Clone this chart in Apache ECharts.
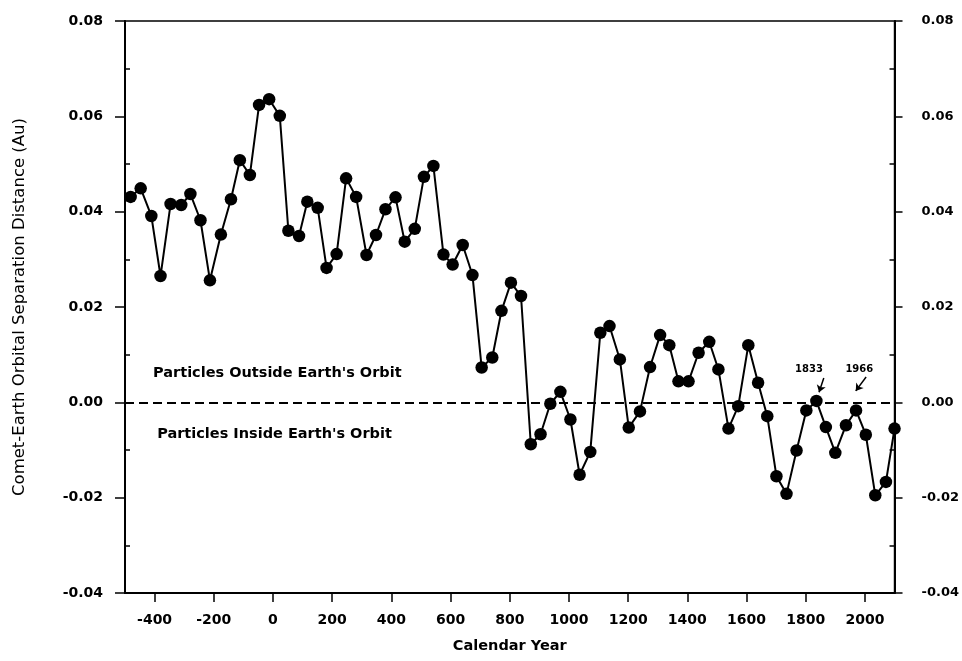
<!DOCTYPE html>
<html>
<head>
<meta charset="utf-8">
<script src="https://cdn.jsdelivr.net/npm/echarts@6/dist/echarts.min.js"></script>
<style>html,body{margin:0;padding:0;background:#fff;}#c{width:962px;height:661px;}</style>
</head>
<body>
<div id="c"></div>
<script>
// Perihelion years
var years = [-481,-447,-411,-380,-346,-310,-279,-245,-213,-176,-142,-112,-78,-47,-13,23,52,88,116,151,181,215,247,281,316,348,380,414,445,479,510,542,576,607,641,674,705,741,772,804,838,871,904,937,971,1005,1036,1072,1106,1137,1172,1202,1240,1274,1308,1339,1370,1404,1438,1474,1505,1539,1572,1606,1639,1670,1701,1735,1769,1802,1836,1868,1900,1936,1970,2003,2035,2071,2100];
// Comet-Earth orbital separation distance (AU)
var separation = [0.0431,0.0449,0.0391,0.0265,0.0416,0.0414,0.0437,0.0382,0.0256,0.0352,0.0426,0.0508,0.0477,0.0624,0.0636,0.0601,0.0360,0.0349,0.0421,0.0408,0.0282,0.0311,0.0470,0.0431,0.0309,0.0351,0.0405,0.0430,0.0337,0.0364,0.0473,0.0496,0.0310,0.0289,0.0330,0.0267,0.0073,0.0094,0.0192,0.0251,0.0223,-0.0088,-0.0067,-0.0003,0.0022,-0.0036,-0.0152,-0.0104,0.0146,0.0160,0.0090,-0.0053,-0.0019,0.0074,0.0141,0.0120,0.0044,0.0044,0.0104,0.0127,0.0069,-0.0055,-0.0008,0.0120,0.0041,-0.0029,-0.0155,-0.0192,-0.0101,-0.0017,0.0003,-0.0052,-0.0106,-0.0048,-0.0017,-0.0068,-0.0195,-0.0167,-0.0055];
var xTicks = [-400,-200,0,200,400,600,800,1000,1200,1400,1600,1800,2000];
var yMinorTicks = [-0.03,-0.01,0.01,0.03,0.05,0.07];
var regionTexts = [["Particles Outside Earth's Orbit", -407, 0.0061], ["Particles Inside Earth's Orbit", -393, -0.0066]];
var yearNotes = [["1833", 1811, 0.0069], ["1966", 1981, 0.0069]];
var arrows = [[[1861, 0.0051], [1845, 0.0021]], [[2004, 0.0053], [1969, 0.0024]]];

var pts = years.map(function (y, i) { return [y, separation[i]]; });
var FONT = 'DejaVu Sans';
function fmt(v) { return (Math.abs(v) < 1e-9 ? 0 : v).toFixed(2); }

var chart = echarts.init(document.getElementById('c'), null, {renderer: 'canvas'});
var yBase = {type: 'value', min: -0.04, max: 0.08, interval: 0.02, splitLine: {show: false}};
chart.setOption({
  animation: false,
  backgroundColor: '#fff',
  grid: {left: 125, right: 64, top: 21, bottom: 68, show: true, borderColor: '#000', borderWidth: 1.5},
  xAxis: {
    type: 'value', min: -500, max: 2100,
    name: 'Calendar Year', nameLocation: 'middle', nameGap: 46,
    nameTextStyle: {fontFamily: FONT, fontWeight: 'bold', fontSize: 14.5, color: '#000'},
    axisLine: {show: true, onZero: false, lineStyle: {color: '#000', width: 2}},
    axisTick: {show: true, customValues: xTicks, length: 9, lineStyle: {color: '#000', width: 1.5}},
    axisLabel: {customValues: xTicks, margin: 20, formatter: function (v) { return String(v); },
      fontFamily: FONT, fontWeight: 'bold', fontSize: 14, color: '#000'},
    splitLine: {show: false}
  },
  yAxis: [
    Object.assign({}, yBase, {
      position: 'left',
      name: 'Comet-Earth Orbital Separation Distance (Au)', nameLocation: 'middle', nameGap: 97,
      nameTextStyle: {fontFamily: FONT, fontSize: 16.5, color: '#000'},
      axisLine: {show: true, onZero: false, lineStyle: {color: '#000', width: 2}},
      axisTick: {show: true, length: 10, lineStyle: {color: '#000', width: 1.5}},
      axisLabel: {margin: 22, formatter: fmt, fontFamily: FONT, fontWeight: 'bold', fontSize: 14, color: '#000'}
    }),
    Object.assign({}, yBase, {
      position: 'right',
      axisLine: {show: true, onZero: false, lineStyle: {color: '#000', width: 2}},
      axisTick: {show: true, length: 8, lineStyle: {color: '#000', width: 1.5}},
      axisLabel: {margin: 27, formatter: fmt, fontFamily: FONT, fontWeight: 'bold', fontSize: 13, color: '#000'}
    }),
    Object.assign({}, yBase, {
      position: 'left',
      axisLine: {show: false, onZero: false},
      axisTick: {show: true, inside: true, customValues: yMinorTicks, length: 5, lineStyle: {color: '#000', width: 1.5}},
      axisLabel: {show: false}
    }),
    Object.assign({}, yBase, {
      position: 'right',
      axisLine: {show: false, onZero: false},
      axisTick: {show: true, inside: true, customValues: yMinorTicks, length: 5, lineStyle: {color: '#000', width: 1.5}},
      axisLabel: {show: false}
    })
  ],
  series: [
    {
      type: 'line', data: pts, clip: false, z: 5,
      symbol: 'circle', symbolSize: 12.5, showAllSymbol: true,
      itemStyle: {color: '#000'},
      lineStyle: {color: '#000', width: 2},
      emphasis: {disabled: true}
    },
    {
      type: 'line', data: [], silent: true, z: 3,
      markLine: {
        silent: true, animation: false,
        symbol: ['none', 'none'],
        label: {show: false},
        lineStyle: {type: [9, 5], width: 2, color: '#000'},
        data: [{yAxis: 0}]
      }
    },
    {
      type: 'line', data: [], silent: true, z: 4,
      markLine: {
        silent: true, animation: false,
        symbol: ['none', 'arrow'], symbolSize: 7,
        label: {show: false},
        lineStyle: {color: '#000', width: 1.5, type: 'solid'},
        data: arrows.map(function (a) { return [{coord: a[0]}, {coord: a[1]}]; })
      }
    },
    {
      type: 'scatter', silent: true, z: 6, clip: false,
      symbolSize: 1, itemStyle: {color: 'rgba(0,0,0,0)', opacity: 1},
      data: regionTexts.map(function (t) { return {value: [t[1], t[2]], name: t[0]}; }),
      label: {show: true, position: 'right', distance: 0, formatter: function (p) { return p.name; },
        fontFamily: FONT, fontWeight: 'bold', fontSize: 14.5, color: '#000', textBorderWidth: 0}
    },
    {
      type: 'scatter', silent: true, z: 6, clip: false,
      symbolSize: 1, itemStyle: {color: 'rgba(0,0,0,0)', opacity: 1},
      data: yearNotes.map(function (t) { return {value: [t[1], t[2]], name: t[0]}; }),
      label: {show: true, position: 'inside', formatter: function (p) { return p.name; },
        fontFamily: FONT, fontWeight: 'bold', fontSize: 10, color: '#000', textBorderWidth: 0}
    }
  ]
});
</script>
</body>
</html>
